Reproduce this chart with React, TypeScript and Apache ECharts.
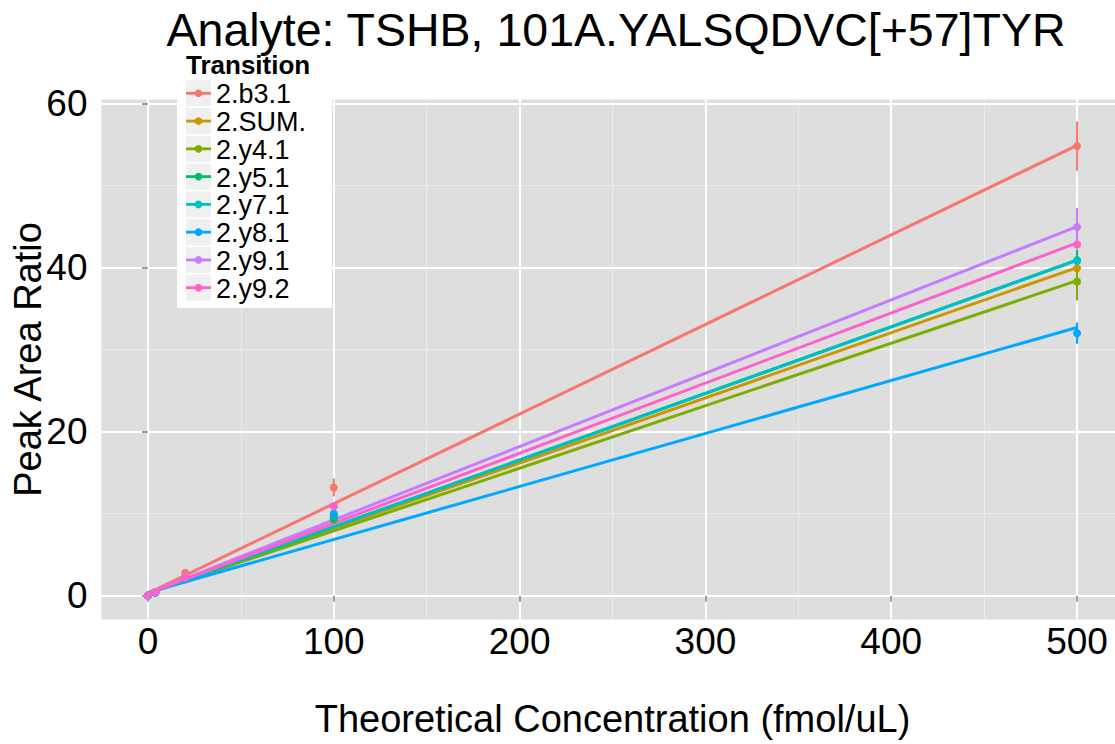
import React, { useEffect, useRef } from "react";
import * as echarts from "echarts";

const transitions = ["2.b3.1", "2.SUM.", "2.y4.1", "2.y5.1", "2.y7.1", "2.y8.1", "2.y9.1", "2.y9.2"];
const colors = ["#F8766D", "#CD9600", "#7CAE00", "#00BE67", "#00BFC4", "#00A9FF", "#C77CFF", "#FF61CC"];

const concentrations = [0, 4, 20, 100, 500];

// mean peak area ratio per transition at each concentration
const meanB31 = [0.05, 0.45, 2.8, 13.2, 54.8];
const meanSUM = [0.02, 0.4, 2.2, 9.6, 39.9];
const meanY41 = [0.02, 0.4, 2.1, 9.3, 38.3];
const meanY51 = [0.02, 0.4, 2.2, 9.4, 40.9];
const meanY71 = [0.02, 0.4, 2.2, 9.8, 40.8];
const meanY81 = [0.02, 0.35, 2.0, 10.0, 32.0];
const meanY91 = [0.02, 0.45, 2.3, 10.9, 44.95];
const meanY92 = [0.02, 0.45, 2.2, 10.9, 42.8];

// error (half-width) per transition at each concentration
const errB31 = [0, 0.05, 0.3, 1.1, 3.0];
const errSUM = [0, 0, 0.1, 0.4, 0.8];
const errY41 = [0, 0, 0.1, 0.4, 2.3];
const errY51 = [0, 0, 0.1, 0.4, 1.3];
const errY71 = [0, 0, 0.1, 0.4, 0.6];
const errY81 = [0, 0, 0.1, 0.4, 1.3];
const errY91 = [0, 0, 0.1, 0.4, 2.3];
const errY92 = [0, 0, 0.1, 0.4, 0.5];

// linear fit values at x = 0 and x = 500
const fitAt0 = [0.3, 0.3, 0.3, 0.3, 0.3, 0.4, 0.3, 0.3];
const fitAt500 = [54.9, 40.0, 38.4, 40.9, 40.9, 32.7, 45.0, 43.0];

const xMajorTicks = [0, 100, 200, 300, 400, 500];
const xMinorTicks = [50, 150, 250, 350, 450];
const yMajorTicks = [0, 20, 40, 60];
const yMinorTicks = [10, 30, 50];

const means = [meanB31, meanSUM, meanY41, meanY51, meanY71, meanY81, meanY91, meanY92];
const errs = [errB31, errSUM, errY41, errY51, errY71, errY81, errY91, errY92];

const FONT = "'Liberation Sans', Arial, Helvetica, sans-serif";

export default function App() {
  const ref = useRef<HTMLDivElement>(null);

  useEffect(() => {
    if (!ref.current) return;
    const chart = echarts.init(ref.current, null, { renderer: "svg" });

    const lineSeries = transitions.map((name, i) => ({
      name,
      type: "line",
      xAxisIndex: 0,
      yAxisIndex: 0,
      data: [
        [concentrations[0], fitAt0[i]],
        [concentrations[concentrations.length - 1], fitAt500[i]],
      ],
      showSymbol: false,
      symbol: "none",
      lineStyle: { color: colors[i], width: 3 },
      z: 3,
    }));

    const errSeries = transitions.map((name, i) => ({
      name,
      type: "custom",
      xAxisIndex: 0,
      yAxisIndex: 0,
      data: concentrations.map((c, k) => [c, means[i][k] - errs[i][k], means[i][k] + errs[i][k]]),
      encode: { x: 0, y: [1, 2] },
      renderItem: (params: any, api: any) => {
        const x = api.value(0);
        const p1 = api.coord([x, api.value(1)]);
        const p2 = api.coord([x, api.value(2)]);
        return {
          type: "line",
          shape: { x1: p1[0], y1: p1[1], x2: p2[0], y2: p2[1] },
          style: { stroke: colors[i], lineWidth: 2 },
        };
      },
      z: 4,
    }));

    const pointSeries = transitions.map((name, i) => ({
      name,
      type: "scatter",
      xAxisIndex: 0,
      yAxisIndex: 0,
      data: concentrations.map((c, k) => [c, means[i][k]]),
      symbol: "circle",
      symbolSize: 8,
      itemStyle: { color: colors[i], opacity: 1 },
      z: 5,
    }));

    const LZ = 100;
    const legendTop = 93.3;
    const legendStep = 27.77;
    const legendChildren: any[] = [
      { type: "rect", z: LZ, shape: { x: 177, y: 50, width: 155, height: 258 }, style: { fill: "#FFFFFF" } },
      {
        type: "text",
        z: LZ + 1,
        x: 186,
        y: 65,
        style: { text: "Transition", font: `bold 26px ${FONT}`, fill: "#000", verticalAlign: "middle", align: "left" },
      },
    ];
    transitions.forEach((name, i) => {
      const cy = legendTop + i * legendStep;
      legendChildren.push(
        { type: "rect", z: LZ + 1, shape: { x: 186, y: cy - 13, width: 25, height: 26 }, style: { fill: "#F0F0F0" } },
        { type: "line", z: LZ + 2, shape: { x1: 186, y1: cy, x2: 211, y2: cy }, style: { stroke: colors[i], lineWidth: 2.8 } },
        { type: "circle", z: LZ + 3, shape: { cx: 198.5, cy, r: 3.8 }, style: { fill: colors[i] } },
        {
          type: "text",
          z: LZ + 3,
          x: 216,
          y: cy + 1,
          style: { text: name, font: `27px ${FONT}`, fill: "#000", verticalAlign: "middle", align: "left" },
        }
      );
    });

    const xMin = -25;
    const xMax = 525;
    const yMin = -2.88;
    const yMax = 60.48;

    chart.setOption({
      animation: false,
      backgroundColor: "#FFFFFF",
      title: {
        text: "Analyte: TSHB, 101A.YALSQDVC[+57]TYR",
        left: 611,
        top: 1,
        z: 200,
        textAlign: "center",
        textStyle: { fontSize: 46.5, fontWeight: "normal", color: "#000", fontFamily: FONT },
      },
      grid: {
        left: 101.5,
        right: -8.5,
        top: 99.5,
        bottom: 124.6,
        show: true,
        backgroundColor: "#DEDEDE",
        borderWidth: 0,
        containLabel: false,
        outerBoundsMode: "none",
      },
      xAxis: [
        {
          type: "value",
          min: xMin,
          max: xMax,
          name: "Theoretical Concentration (fmol/uL)",
          nameLocation: "middle",
          nameGap: 81,
          nameMoveOverlap: false,
          nameTextStyle: { fontSize: 38, color: "#000", fontFamily: FONT },
          axisLine: { show: false },
          axisTick: { show: true, length: 6, lineStyle: { color: "#7F7F7F", width: 1.5 }, customValues: xMajorTicks },
          axisLabel: { fontSize: 37, color: "#000", fontFamily: FONT, margin: 4, customValues: xMajorTicks },
          splitLine: { show: true, lineStyle: { color: "#FFFFFF", width: 2 } },
          z: 1,
        },
        {
          type: "value",
          min: xMin,
          max: xMax,
          position: "bottom",
          axisLine: { show: false },
          axisTick: { show: false, customValues: xMinorTicks },
          axisLabel: { show: false, customValues: xMinorTicks },
          splitLine: { show: true, lineStyle: { color: "#EBEBEB", width: 1 } },
          z: 0,
        },
      ],
      yAxis: [
        {
          type: "value",
          min: yMin,
          max: yMax,
          name: "Peak Area Ratio",
          nameLocation: "middle",
          nameGap: 55,
          nameMoveOverlap: false,
          nameTextStyle: { fontSize: 38, color: "#000", fontFamily: FONT },
          axisLine: { show: false },
          axisTick: { show: true, length: 6, lineStyle: { color: "#7F7F7F", width: 1.5 }, customValues: yMajorTicks },
          axisLabel: { fontSize: 37, color: "#000", fontFamily: FONT, margin: 14, customValues: yMajorTicks },
          splitLine: { show: true, lineStyle: { color: "#FFFFFF", width: 2 } },
          z: 1,
        },
        {
          type: "value",
          min: yMin,
          max: yMax,
          position: "left",
          axisLine: { show: false },
          axisTick: { show: false, customValues: yMinorTicks },
          axisLabel: { show: false, customValues: yMinorTicks },
          splitLine: { show: true, lineStyle: { color: "#EBEBEB", width: 1 } },
          z: 0,
        },
      ],
      graphic: legendChildren,
      series: [...lineSeries, ...errSeries, ...pointSeries],
    });

    return () => chart.dispose();
  }, []);

  return (
    <div
      ref={ref}
      style={{ position: "fixed", left: 0, top: 0, width: 1115, height: 744 }}
    />
  );
}
